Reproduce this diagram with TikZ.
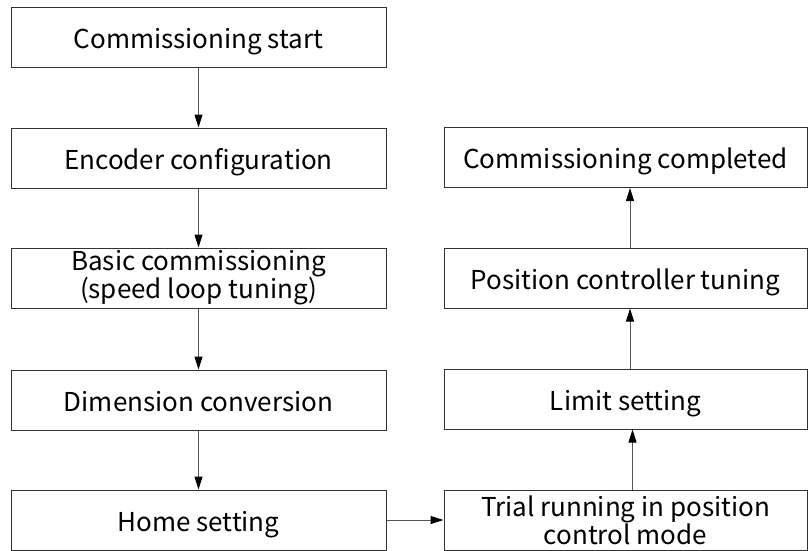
\documentclass[tikz,border=0pt]{standalone}
\usepackage{fontspec}
\setmainfont{Noto Sans CJK SC}
\usetikzlibrary{arrows.meta}
\definecolor{edge}{HTML}{333333}
\definecolor{link}{HTML}{555555}
\begin{document}
\begin{tikzpicture}[x=1pt,y=-1pt,
  stepbox/.style={draw=edge,line width=1pt,minimum height=60pt,inner sep=0pt,
    align=center,font=\fontsize{26}{28}\selectfont},
  oneline/.style={text height=22.5pt,text depth=0pt},
  leftbox/.style={stepbox,minimum width=375pt},
  rightbox/.style={stepbox,minimum width=363pt},
  arr/.style={draw=link,line width=1pt,-{Triangle[length=13pt,width=8pt,black]}}]
\useasboundingbox (0,0) rectangle (808,550);
% left column
\node[leftbox,oneline] (start) at (198.5,37.5) {Commissioning start};
\node[leftbox,oneline] (enc)   at (198.5,158) {Encoder configuration};
\node[leftbox] (basic) at (198.5,278) {Basic commissioning\\(speed loop tuning)};
\node[leftbox,oneline] (dim)   at (198.5,400) {Dimension conversion};
\node[leftbox,oneline] (home)  at (198.5,520) {Home setting};
% right column
\node[rightbox] (trial) at (625.5,520) {Trial running in position\\control mode};
\node[rightbox,oneline] (limit) at (625.5,399) {Limit setting};
\node[rightbox,oneline] (pos)   at (625.5,278) {Position controller tuning};
\node[rightbox,oneline] (done)  at (625.5,157.5) {Commissioning completed};
% connectors
\draw[arr] (start) -- (enc);
\draw[arr] (enc) -- (basic);
\draw[arr] (basic) -- (dim);
\draw[arr] (dim) -- (home);
\draw[arr] (home) -- (trial);
\draw[arr] ([xshift=7pt]trial.north) -- ([xshift=7pt]limit.south);
\draw[arr] ([xshift=4.5pt]limit.north) -- ([xshift=4.5pt]pos.south);
\draw[arr] ([xshift=4.5pt]pos.north) -- ([xshift=4.5pt]done.south);
\end{tikzpicture}
\end{document}
